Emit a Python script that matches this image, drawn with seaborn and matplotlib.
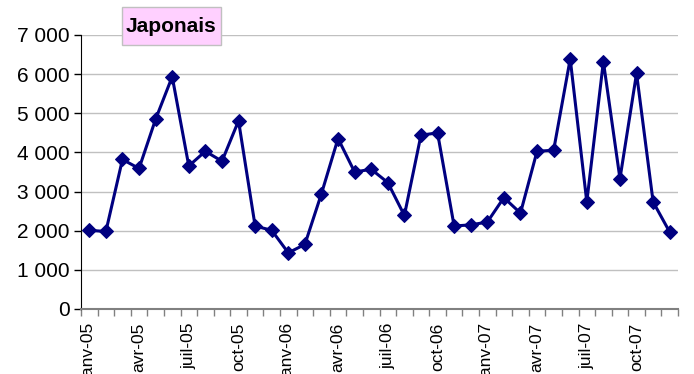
import matplotlib
matplotlib.use("Agg")
import matplotlib.pyplot as plt
import seaborn as sns
import pandas as pd
from matplotlib.ticker import FuncFormatter, FixedLocator
from matplotlib.patches import Rectangle

months = ["janv-05", "févr-05", "mars-05", "avr-05", "mai-05", "juin-05",
          "juil-05", "août-05", "sept-05", "oct-05", "nov-05", "déc-05",
          "janv-06", "févr-06", "mars-06", "avr-06", "mai-06", "juin-06",
          "juil-06", "août-06", "sept-06", "oct-06", "nov-06", "déc-06",
          "janv-07", "févr-07", "mars-07", "avr-07", "mai-07", "juin-07",
          "juil-07", "août-07", "sept-07", "oct-07", "nov-07", "déc-07"]
values = [2010, 1980, 3820, 3590, 4850, 5935,
          3655, 4030, 3775, 4808, 2120, 2010,
          1435, 1650, 2946, 4355, 3500, 3570,
          3230, 2390, 4440, 4500, 2120, 2150,
          2220, 2845, 2450, 4030, 4055, 6390,
          2735, 6320, 3330, 6020, 2735, 1965]
title = "Japonais"
yticks = [0, 1000, 2000, 3000, 4000, 5000, 6000, 7000]

df = pd.DataFrame({"idx": range(len(months)), "mois": months, "valeur": values})

sns.set_style("white")
plt.rcParams["font.family"] = ["Liberation Sans", "DejaVu Sans"]
plt.rcParams["text.color"] = "black"
plt.rcParams["xtick.color"] = "black"
plt.rcParams["ytick.color"] = "black"

W, H = 694, 374
fig = plt.figure(figsize=(W/100, H/100), dpi=100)
ax = fig.add_axes([81/W, 1-309/H, (678-81)/W, (309-35)/H])

sns.lineplot(data=df, x="idx", y="valeur", ax=ax, color="#000080",
             linewidth=2.2, marker="D", markersize=7.5,
             markeredgecolor="#000080", markerfacecolor="#000080")

ax.set_xlim(-0.5, len(months) - 0.5)
ax.set_ylim(0, 7000)
ax.set_yticks(yticks)
ax.yaxis.set_major_formatter(FuncFormatter(lambda v, p: f"{int(v):,}".replace(",", " ")))
ax.grid(axis="y", color="#C0C0C0", linewidth=1)
ax.set_axisbelow(True)

# tick marks between categories, labels at every 3rd category center
ax.xaxis.set_major_locator(FixedLocator([i - 0.5 for i in range(len(months) + 1)]))
ax.xaxis.set_major_formatter(FuncFormatter(lambda v, p: ""))
lab_pos = [i for i in range(len(months)) if i % 3 == 0]
ax.xaxis.set_minor_locator(FixedLocator(lab_pos))
ax.set_xticklabels([months[i] for i in lab_pos], minor=True, rotation=90,
                   fontsize=12.5, va="top", ha="center")
ax.tick_params(axis="x", which="major", direction="out", length=5, width=1,
               color="#808080", bottom=True)
ax.tick_params(axis="x", which="minor", length=0, pad=10)
ax.tick_params(axis="y", direction="out", length=5, width=1, color="#000000",
               labelsize=15, pad=3, left=True)

ax.set_xlabel("")
ax.set_ylabel("")
for s in ["top", "right"]:
    ax.spines[s].set_visible(False)
ax.spines["left"].set_color("#000000")
ax.spines["bottom"].set_color("#808080")
ax.spines["bottom"].set_linewidth(1.5)

fig.patches.append(Rectangle((122/W, 1-45/H), (221-122)/W, (45-7)/H,
                             transform=fig.transFigure, facecolor="#FFD0FF",
                             edgecolor="#C0C0C0", linewidth=1, zorder=5))
fig.text(171.5/W, 1-26/H, title, fontsize=15, fontweight="bold",
         ha="center", va="center", color="black", zorder=6)

fig.savefig("out.png", dpi=100)
